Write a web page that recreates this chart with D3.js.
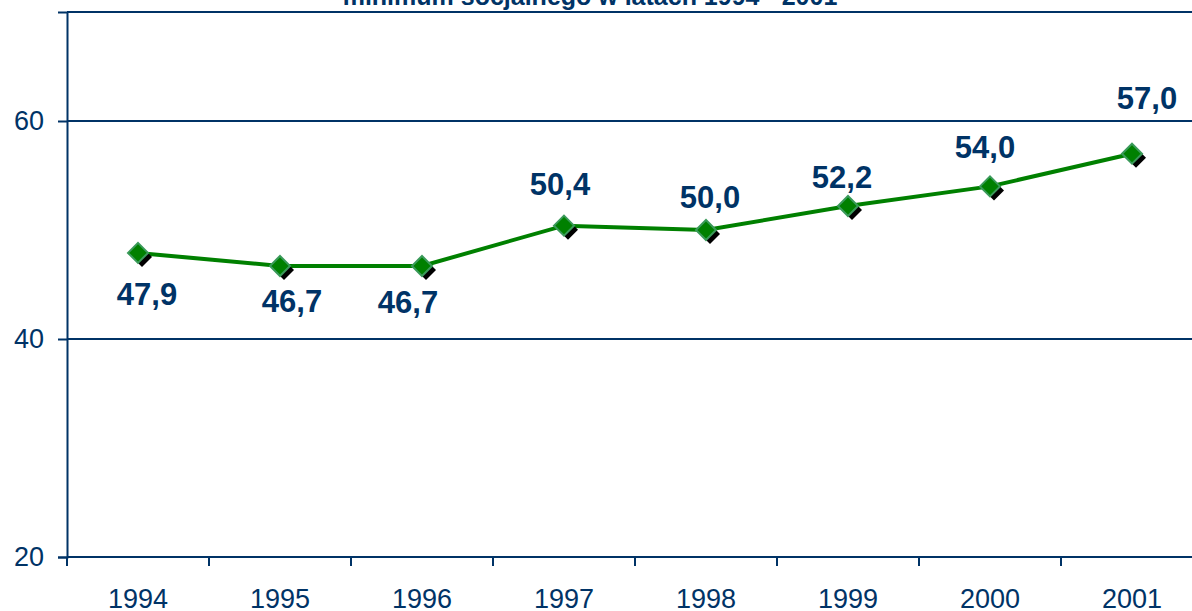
<!DOCTYPE html>
<html>
<head>
<meta charset="utf-8">
<script src="https://cdn.jsdelivr.net/npm/d3@7"></script>
<style>
  html, body { margin: 0; padding: 0; background: #fff; }
  svg { display: block; font-family: "Liberation Sans", Arial, sans-serif; }
</style>
</head>
<body>
<svg width="1192" height="611"></svg>
<script>
// data
var years = ["1994", "1995", "1996", "1997", "1998", "1999", "2000", "2001"];
var values = [47.9, 46.7, 46.7, 50.4, 50.0, 52.2, 54.0, 57.0];
var yTicks = [20, 40, 60];
var title = "minimum socjalnego w latach 1994 - 2001";

// hand-placed label offsets (px) as in the original
var labelDx = [9, 12, -14, -4, 4, -6, -5, 15];
var labelDy = [52, 46, 47, -31, -22, -18, -28, -45];

var navy = "#003366";
var svg = d3.select("svg");
var margin = {top: 12, right: -11, bottom: 54, left: 67};
var width = 1192 - margin.left - margin.right;
var height = 611 - margin.top - margin.bottom;

var g = svg.append("g")
    .attr("transform", "translate(" + margin.left + "," + margin.top + ")");

var x = d3.scaleBand().domain(years).range([0, width]);
var y = d3.scaleLinear().domain([20, 70]).range([height, 0]);

// title (cut off at top)
svg.append("text")
    .attr("x", 590)
    .attr("y", 5)
    .attr("text-anchor", "middle")
    .attr("font-size", "25px")
    .attr("font-weight", "bold")
    .attr("fill", navy)
    .text(title);

// gridlines
g.selectAll(".grid")
    .data(yTicks.concat([70]))
    .enter().append("line")
    .attr("x1", 0).attr("x2", width)
    .attr("y1", function(d){ return y(d); })
    .attr("y2", function(d){ return y(d); })
    .attr("stroke", navy)
    .attr("stroke-width", 2);

// y axis
var yAxis = g.append("g")
    .call(d3.axisLeft(y).tickValues(yTicks).tickSize(9).tickPadding(14));
yAxis.select(".domain").attr("stroke", navy).attr("stroke-width", 2);
yAxis.selectAll(".tick line").attr("stroke", navy).attr("stroke-width", 2);
yAxis.selectAll(".tick text")
    .attr("font-size", "27px")
    .attr("fill", navy)
    .attr("font-family", "Liberation Sans, Arial, sans-serif");

// x axis
var xAxis = g.append("g")
    .attr("transform", "translate(0," + height + ")")
    .call(d3.axisBottom(x).tickSize(0).tickPadding(32));
xAxis.select(".domain").remove();
xAxis.selectAll(".tick text")
    .attr("font-size", "27px")
    .attr("fill", navy)
    .attr("font-family", "Liberation Sans, Arial, sans-serif");

// category separators on x axis
g.selectAll(".xsep")
    .data(years)
    .enter().append("line")
    .attr("x1", function(d){ return x(d); })
    .attr("x2", function(d){ return x(d); })
    .attr("y1", height)
    .attr("y2", height + 9)
    .attr("stroke", navy)
    .attr("stroke-width", 2);

var cx = function(d, i){ return x(years[i]) + x.bandwidth() / 2; };

// line
var line = d3.line()
    .x(function(d, i){ return cx(d, i); })
    .y(function(d){ return y(d); });

g.append("path")
    .datum(values)
    .attr("d", line)
    .attr("fill", "none")
    .attr("stroke", "#008000")
    .attr("stroke-width", 4);

// markers with shadow
var diamond = "M0,-10L10,0L0,10L-10,0Z";
g.selectAll(".shadow")
    .data(values)
    .enter().append("path")
    .attr("d", diamond)
    .attr("transform", function(d, i){ return "translate(" + (cx(d, i) + 4) + "," + (y(d) + 4) + ")"; })
    .attr("fill", "#000");

g.selectAll(".marker")
    .data(values)
    .enter().append("path")
    .attr("d", diamond)
    .attr("transform", function(d, i){ return "translate(" + cx(d, i) + "," + y(d) + ")"; })
    .attr("fill", "#008000")
    .attr("stroke", "#3a9a5a")
    .attr("stroke-width", 2);

// value labels
g.selectAll(".val")
    .data(values)
    .enter().append("text")
    .attr("x", function(d, i){ return cx(d, i) + labelDx[i]; })
    .attr("y", function(d, i){ return y(d) + labelDy[i]; })
    .attr("text-anchor", "middle")
    .attr("font-size", "31px")
    .attr("font-weight", "bold")
    .attr("fill", navy)
    .text(function(d){ return d.toFixed(1).replace(".", ","); });
</script>
</body>
</html>
